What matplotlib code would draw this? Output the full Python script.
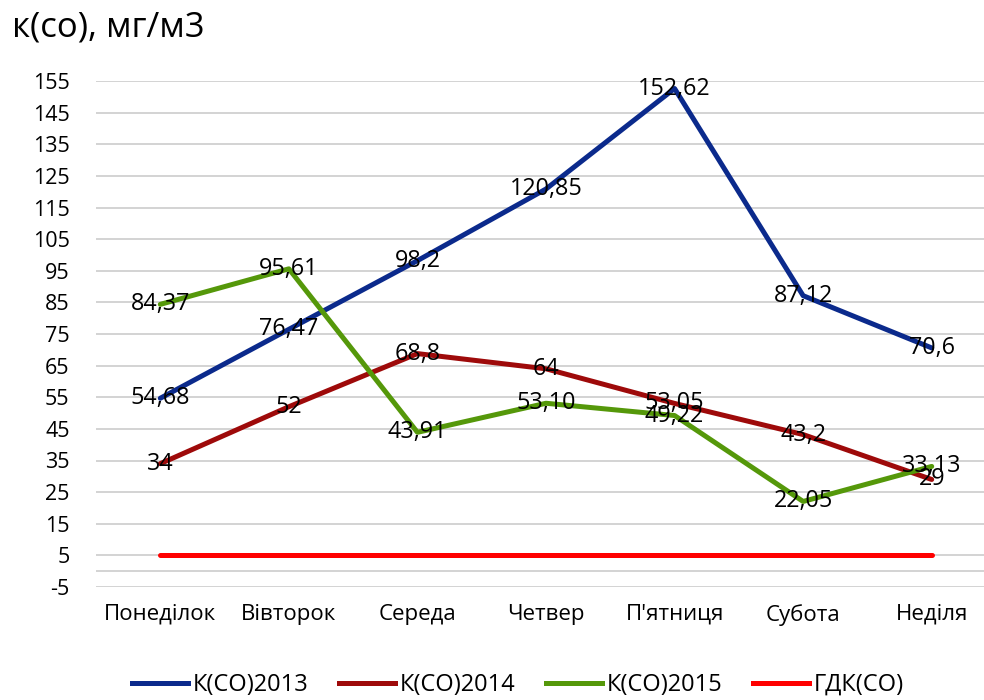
import matplotlib
matplotlib.use("Agg")
import matplotlib.pyplot as plt
from matplotlib.lines import Line2D

plt.rcParams['font.family'] = ['Open Sans', 'DejaVu Sans']

days = ["Понеділок", "Вівторок", "Середа", "Четвер", "П'ятниця", "Субота", "Неділя"]
k2013 = [54.68, 76.47, 98.2, 120.85, 152.62, 87.12, 70.6]
k2014 = [34, 52, 68.8, 64, 53.05, 43.2, 29]
k2015 = [84.37, 95.61, 43.91, 53.10, 49.22, 22.05, 33.13]
gdk = [5, 5, 5, 5, 5, 5, 5]
lab2013 = ["54,68", "76,47", "98,2", "120,85", "152,62", "87,12", "70,6"]
lab2014 = ["34", "52", "68,8", "64", "53,05", "43,2", "29"]
lab2015 = ["84,37", "95,61", "43,91", "53,10", "49,22", "22,05", "33,13"]
yticks = list(range(-5, 156, 10))
series_names = ["К(СО)2013", "К(СО)2014", "К(СО)2015", "ГДК(СО)"]
colors = ["#0B2A8C", "#9E0A0A", "#55980A", "#FF0000"]

fig = plt.figure(figsize=(9.84, 7.0), dpi=100)
ax = fig.add_axes([96/984, 1 - 587/700, 900/984, 506/700])

x = list(range(len(days)))
lw = 3.6
for vals, c in zip([k2013, k2014, k2015, gdk], colors):
    ax.plot(x, vals, color=c, lw=lw, solid_capstyle='round', solid_joinstyle='round', zorder=3)

for vals, labs in [(k2013, lab2013), (k2014, lab2014), (k2015, lab2015)]:
    for xi, v, t in zip(x, vals, labs):
        ax.text(xi, v, t, ha='center', va='center', fontsize=16.8, color='black', zorder=5)

ax.set_xlim(-0.5, 6.5)
ax.set_ylim(-5, 155)
ax.set_yticks(yticks)
ax.set_yticklabels([str(v) for v in yticks], fontsize=15.5)
ax.set_xticks(x)
ax.set_xticklabels(days, fontsize=16)
ax.tick_params(axis='both', length=0)
ax.tick_params(axis='y', pad=19)
ax.tick_params(axis='x', pad=12)
ax.grid(axis='y', color='#D0D0D0', lw=1.3)
ax.axhline(0, color='#D0D0D0', lw=1.3, zorder=1)
ax.set_axisbelow(True)
for s in ax.spines.values():
    s.set_visible(False)

fig.text(12/984, 1 - 27/700, "к(со), мг/м3", fontsize=25, ha='left', va='center')

handles = [Line2D([], [], color=c, lw=lw) for c in colors]
fig.legend(handles, series_names, loc='center', bbox_to_anchor=(518/984, 1 - 685/700),
           ncol=4, frameon=False, fontsize=17, handlelength=2.37, handletextpad=0.2,
           columnspacing=1.3)

fig.savefig("out.png", dpi=100)
